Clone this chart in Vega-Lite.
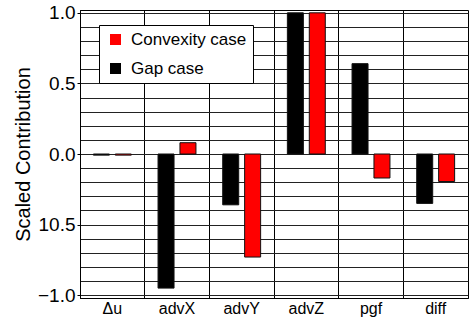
{
  "$schema": "https://vega.github.io/schema/vega-lite/v6.json",
  "autosize": "none",
  "width": 388,
  "height": 288,
  "padding": {"left": 80, "top": 10, "right": 3, "bottom": 28},
  "background": "white",
  "config": {
    "font": "Liberation Sans",
    "view": {"stroke": "black", "strokeWidth": 1}
  },
  "data": {
    "values": [
      {"term": "Δu", "case": "Gap case", "value": -0.008},
      {"term": "Δu", "case": "Convexity case", "value": -0.008},
      {"term": "advX", "case": "Gap case", "value": -0.95},
      {"term": "advX", "case": "Convexity case", "value": 0.08},
      {"term": "advY", "case": "Gap case", "value": -0.36},
      {"term": "advY", "case": "Convexity case", "value": -0.73},
      {"term": "advZ", "case": "Gap case", "value": 1.0},
      {"term": "advZ", "case": "Convexity case", "value": 1.0},
      {"term": "pgf", "case": "Gap case", "value": 0.64},
      {"term": "pgf", "case": "Convexity case", "value": -0.17},
      {"term": "diff", "case": "Gap case", "value": -0.35},
      {"term": "diff", "case": "Convexity case", "value": -0.195}
    ]
  },
  "mark": {"type": "bar", "stroke": "#111", "strokeWidth": 1},
  "encoding": {
    "x": {
      "field": "term",
      "type": "nominal",
      "sort": ["Δu", "advX", "advY", "advZ", "pgf", "diff"],
      "scale": {"paddingInner": 0, "paddingOuter": 0},
      "axis": {
        "title": null,
        "labelAngle": 0,
        "labelFontSize": 16,
        "labelColor": "black",
        "labelPadding": 2,
        "ticks": false,
        "domain": true,
        "domainColor": "black",
        "grid": true,
        "gridColor": "black",
        "gridOpacity": 1,
        "bandPosition": 0
      }
    },
    "xOffset": {
      "field": "case",
      "type": "nominal",
      "sort": ["Gap case", "Convexity case"],
      "scale": {"paddingInner": 0.27, "paddingOuter": 0.61}
    },
    "y": {
      "field": "value",
      "type": "quantitative",
      "scale": {"domain": [-1.02, 1.02], "nice": false, "zero": false},
      "axis": {
        "title": "Scaled Contribution",
        "titleFontSize": 20,
        "titleFontWeight": "normal",
        "titleColor": "black",
        "titlePadding": 4,
        "values": [-1, -0.9, -0.8, -0.7, -0.6, -0.5, -0.4, -0.3, -0.2, -0.1, 0, 0.1, 0.2, 0.3, 0.4, 0.5, 0.6, 0.7, 0.8, 0.9, 1],
        "labelExpr": "abs(datum.value - 1) < 0.001 ? '1.0' : abs(datum.value - 0.5) < 0.001 ? '0.5' : abs(datum.value) < 0.001 ? '0.0' : abs(datum.value + 0.5) < 0.001 ? '10.5' : abs(datum.value + 1) < 0.001 ? '−1.0' : ''",
        "labelFontSize": 19,
        "labelColor": "black",
        "labelPadding": 2,
        "tickSize": 3,
        "tickColor": "black",
        "tickOpacity": {"condition": {"test": "abs(datum.value * 2 - round(datum.value * 2)) < 0.001", "value": 1}, "value": 0},
        "domainColor": "black",
        "grid": true,
        "gridColor": "#222",
        "gridOpacity": 1
      }
    },
    "color": {
      "field": "case",
      "type": "nominal",
      "scale": {"domain": ["Convexity case", "Gap case"], "range": ["#ff0000", "#000000"]},
      "legend": {
        "title": null,
        "orient": "none",
        "legendX": 19,
        "legendY": 15,
        "fillColor": "white",
        "strokeColor": "black",
        "padding": 6,
        "symbolOffset": 2,
        "symbolType": "square",
        "symbolSize": 121,
        "symbolStrokeWidth": 0,
        "labelFontSize": 17,
        "labelColor": "black",
        "labelOffset": 7,
        "rowPadding": 11,
        "labelExpr": "datum.label + '\u00a0\u00a0'"
      }
    }
  }
}
